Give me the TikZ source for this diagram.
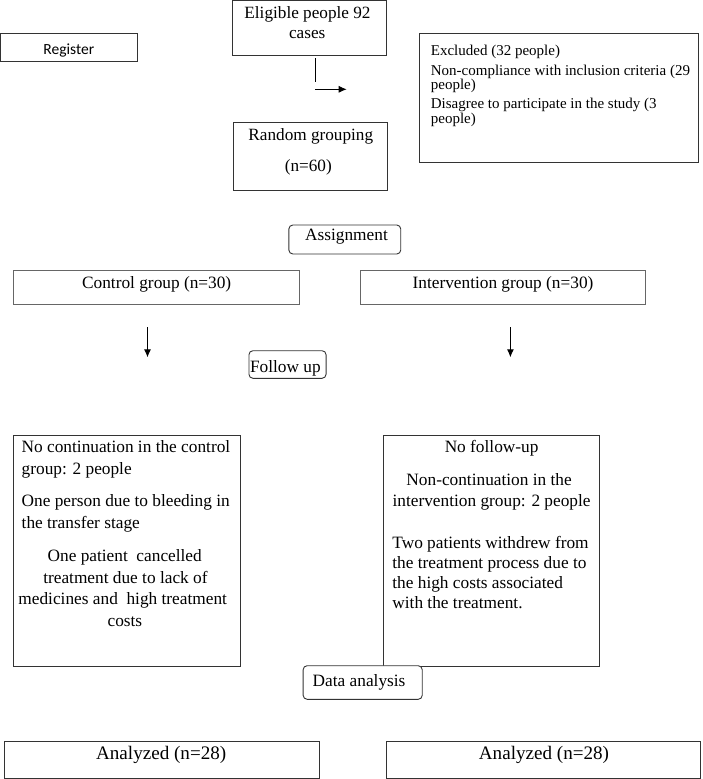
\documentclass[tikz,border=0pt]{standalone}
\usepackage{fontspec}
\setmainfont{Liberation Serif}
\newfontfamily\regfont{Carlito}
\usetikzlibrary{arrows.meta}
\tikzset{
  box/.style={draw=black!80, line width=0.9pt, inner sep=0pt, anchor=center},
  rbox/.style={box, rounded corners=4pt},
  ctxt/.style={inner sep=0pt, anchor=base},
  ltxt/.style={inner sep=0pt, anchor=base west},
  arr/.style={-{Latex[length=8pt,width=7pt]}, line width=0.9pt},
  plain/.style={line width=0.9pt},
  fa/.style={font=\fontsize{17.2}{20}\selectfont},
  fb/.style={font=\fontsize{15}{17}\selectfont},
  fc/.style={font=\fontsize{17.3}{20}\selectfont},
  fd/.style={font=\fontsize{19.1}{22}\selectfont},
  fr/.style={font=\regfont\fontsize{15.5}{18}\selectfont}
}
\begin{document}
\begin{tikzpicture}[x=1pt,y=-1pt]
\useasboundingbox (0,0) rectangle (702,779);
% boxes
\node[box, minimum width=137pt, minimum height=28.4pt] (reg) at (69.1,47.5) {};
\node[box, minimum width=154.4pt, minimum height=55.2pt] (elig) at (309.5,28.1) {};
\node[box, minimum width=154.4pt, minimum height=67.7pt] (rand) at (310.5,156.2) {};
\node[box, minimum width=278.8pt, minimum height=129.4pt] (excl) at (558.9,98) {};
\node[rbox, minimum width=111.9pt, minimum height=29pt] (assign) at (344.8,239.5) {};
\node[box, draw=black!60, minimum width=285.6pt, minimum height=33.6pt] (ctrl) at (156.2,287.5) {};
\node[box, draw=black!60, minimum width=285.2pt, minimum height=33.6pt] (intv) at (503,287.5) {};
\node[rbox, minimum width=77.1pt, minimum height=27.6pt] (follow) at (287.5,364.5) {};
\node[box, minimum width=226.6pt, minimum height=231.7pt] (lbox) at (126.7,550.8) {};
\node[box, minimum width=215.8pt, minimum height=231.7pt] (rbx) at (491.1,550.8) {};
\node[rbox, fill=white, minimum width=119.1pt, minimum height=33.6pt] (data) at (362.7,682.5) {};
\node[box, minimum width=314.7pt, minimum height=37.3pt] (anL) at (161.9,759.7) {};
\node[box, minimum width=314.3pt, minimum height=37.3pt] (anR) at (543.5,759.7) {};
% texts
\node[ctxt, fr] (tReg) at (68.8,54.3) {Register};
\node[ctxt, fa] (tE1) at (307.5,18.5) {Eligible people 92};
\node[ctxt, fa] (tE2) at (307.2,38.3) {cases};
\node[ctxt, fa] (tR1) at (310.8,140) {Random grouping};
\node[ctxt, fa] (tR2) at (308.3,171.7) {(n=60)};
\node[ltxt, fb] (tX1) at (430.7,55) {Excluded (32 people)};
\node[ltxt, fb] (tX2) at (430.7,75) {Non-compliance with inclusion criteria (29};
\node[ltxt, fb] (tX3) at (430.7,89) {people)};
\node[ltxt, fb] (tX4) at (430.7,108.3) {Disagree to participate in the study (3};
\node[ltxt, fb] (tX5) at (430.7,123.5) {people)};
\node[ctxt, fc] (tAs) at (346.5,240) {Assignment};
\node[ctxt, fc] (tCt) at (156.7,288.3) {Control group (n=30)};
\node[ctxt, fc] (tIn) at (503,288.3) {Intervention group (n=30)};
\node[ctxt, fc] (tFo) at (285.4,372.7) {Follow up};
\node[ltxt, fc] (tL1) at (21.5,452.3) {No continuation in the control};
\node[ltxt, fc] (tL2) at (21.5,474) {group: 2 people};
\node[ltxt, fc] (tL3) at (21.5,506.7) {One person due to bleeding in};
\node[ltxt, fc] (tL4) at (21.5,528.3) {the transfer stage};
\node[ctxt, fc] (tL5) at (124.7,561.7) {One patient\ \ cancelled};
\node[ctxt, fc] (tL6) at (125.4,583.3) {treatment due to lack of};
\node[ctxt, fc] (tL7) at (122.7,604.3) {medicines and\ \ high treatment};
\node[ctxt, fc] (tL8) at (124.9,626) {costs};
\node[ctxt, fc] (tR1b) at (491.6,452.3) {No follow-up};
\node[ctxt, fc] (tR2b) at (489.1,485) {Non-continuation in the};
\node[ctxt, fc] (tR3b) at (491.6,506.7) {intervention group: 2 people};
\node[ltxt, fc] (tR4b) at (392.2,548.3) {Two patients withdrew from};
\node[ltxt, fc] (tR5b) at (392.2,568.3) {the treatment process due to};
\node[ltxt, fc] (tR6b) at (392.2,588.3) {the high costs associated};
\node[ltxt, fc] (tR7b) at (392.2,608.3) {with the treatment.};
\node[ltxt, fc] (tDa) at (312.5,686.7) {Data analysis};
\node[ctxt, fd] (tA1) at (161.2,759.3) {Analyzed (n=28)};
\node[ctxt, fd] (tA2) at (544,759.3) {Analyzed (n=28)};
% connectors
\coordinate (v1s) at (315,58.3);
\coordinate (v1e) at (315,81.7);
\coordinate (h1s) at (315,89.3);
\coordinate (h1e) at (346.7,89.3);
\coordinate (d1s) at (147.5,327);
\coordinate (d1e) at (147.5,357.3);
\coordinate (d2s) at (510.4,327);
\coordinate (d2e) at (510.4,357.3);
\draw[plain] (v1s) -- (v1e);
\draw[arr] (h1s) -- (h1e);
\draw[arr] (d1s) -- (d1e);
\draw[arr] (d2s) -- (d2e);
\end{tikzpicture}
\end{document}
